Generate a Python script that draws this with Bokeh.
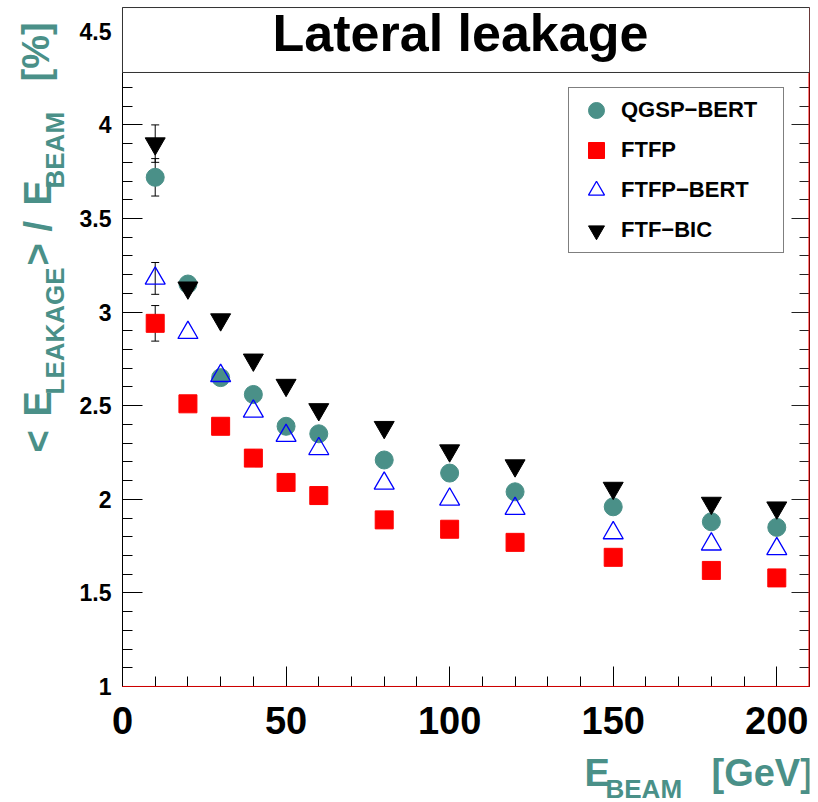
import math
from bokeh.plotting import figure
from bokeh.models import (Range1d, SingleIntervalTicker, LinearAxis, Label, BoxAnnotation,
                          Legend, LegendItem, ColumnDataSource, Whisker, TeeHead,
                          NumeralTickFormatter, CustomJSTickFormatter)
from bokeh.embed import file_html
from bokeh.resources import INLINE

# ---------------- data ----------------
energies = [10, 20, 30, 40, 50, 60, 80, 100, 120, 150, 180, 200]
qgsp_bert = [3.72, 3.15, 2.65, 2.56, 2.39, 2.35, 2.21, 2.14, 2.04, 1.96, 1.88, 1.85]
ftfp = [2.94, 2.51, 2.39, 2.22, 2.09, 2.02, 1.89, 1.84, 1.77, 1.69, 1.62, 1.58]
ftfp_bert = [3.18, 2.89, 2.66, 2.47, 2.34, 2.27, 2.085, 2.00, 1.95, 1.82, 1.76, 1.735]
ftf_bic = [3.90, 3.13, 2.96, 2.745, 2.61, 2.48, 2.385, 2.26, 2.18, 2.06, 1.98, 1.955]

# statistical errors shown at 10 GeV
err_energy = [10, 10, 10, 10]
err_value = [3.72, 2.94, 3.18, 3.90]
err_size = [0.10, 0.095, 0.085, 0.10]

series_names = ["QGSP\u2212BERT", "FTFP", "FTFP\u2212BERT", "FTF\u2212BIC"]

# axis extents (frame of the original plot)
X_MIN, X_MAX = 0, 210
Y_MIN, Y_MAX = 1, 4.627
Y_TITLE_BOTTOM = 4.28
# visible range extended so the axis labels/titles live inside the frame
X_LO = -37.29
Y_LO, Y_HI = 0.3803, 4.6325

TEAL = "#4a9088"
FONT = "Liberation Sans"

p = figure(width=818, height=802, x_range=Range1d(X_LO, X_MAX), y_range=Range1d(Y_LO, Y_HI),
           output_backend="svg", toolbar_location=None, x_axis_type=None, y_axis_type=None,
           min_border_left=0, min_border_right=9, min_border_top=6, min_border_bottom=0)
p.outline_line_color = None
p.background_fill_color = "white"
p.border_fill_color = "white"

# axes
xaxis = LinearAxis(ticker=SingleIntervalTicker(interval=50, num_minor_ticks=5),
                   fixed_location=Y_MIN, bounds=(X_MIN, X_MAX),
                   major_tick_in=20, major_tick_out=0, minor_tick_in=10, minor_tick_out=0,
                   major_label_text_font=FONT, major_label_text_font_style="bold",
                   major_label_text_font_size="38px", major_label_standoff=21,
                   major_label_text_color="black",
                   axis_line_color="black", major_tick_line_color="black",
                   minor_tick_line_color="black")
p.add_layout(xaxis, "below")

yaxis = LinearAxis(ticker=SingleIntervalTicker(interval=0.5, num_minor_ticks=5),
                   fixed_location=X_MIN, bounds=(Y_MIN, Y_MAX),
                   formatter=NumeralTickFormatter(format="0.[0]"),
                   major_tick_in=20, major_tick_out=0, minor_tick_in=10, minor_tick_out=0,
                   major_label_text_font=FONT, major_label_text_font_style="bold",
                   major_label_text_font_size="23px", major_label_standoff=11,
                   major_label_text_color="black",
                   axis_line_color="black", major_tick_line_color="black",
                   minor_tick_line_color="black")
p.add_layout(yaxis, "left")

raxis = LinearAxis(ticker=SingleIntervalTicker(interval=0.5, num_minor_ticks=5),
                   bounds=(Y_MIN, Y_MAX), formatter=CustomJSTickFormatter(code="return ''"),
                   major_tick_in=18, major_tick_out=0, minor_tick_in=10, minor_tick_out=0,
                   major_label_standoff=0,
                   axis_line_color="black", major_tick_line_color="#222222",
                   minor_tick_line_color="#222222")
p.add_layout(raxis, "right")

# red frame edges (right and bottom)
p.add_layout(BoxAnnotation(left=X_MAX, right=X_MAX, bottom=Y_MIN, top=Y_MAX, fill_color=None,
                           line_color="red", line_width=2, line_alpha=1))
p.add_layout(BoxAnnotation(left=X_MIN, right=X_MAX, bottom=Y_MIN, top=Y_MIN, fill_color=None,
                           line_color="#cc0000", line_width=1, line_alpha=1))

# error bars
esrc = ColumnDataSource(dict(base=err_energy,
                             upper=[v + e for v, e in zip(err_value, err_size)],
                             lower=[v - e for v, e in zip(err_value, err_size)]))
p.add_layout(Whisker(source=esrc, base="base", upper="upper", lower="lower",
                     line_color="black", line_width=1,
                     upper_head=TeeHead(size=8, line_color="black", line_width=1),
                     lower_head=TeeHead(size=8, line_color="black", line_width=1)))

src = ColumnDataSource(dict(e=energies, qgsp=qgsp_bert, ftfp=ftfp, ftfpb=ftfp_bert, bic=ftf_bic))
r1 = p.scatter("e", "qgsp", source=src, marker="circle", size=18, fill_color=TEAL, line_color=TEAL)
r2 = p.scatter("e", "ftfp", source=src, marker="square", size=18, fill_color="red", line_color="red")
r3 = p.scatter("e", "ftfpb", source=src, marker="triangle", size=20, fill_color=None,
               line_color="blue", line_width=1.3)
r4 = p.scatter("e", "bic", source=src, marker="inverted_triangle", size=20, fill_color="black",
               line_color="black")

legend = Legend(items=[LegendItem(label=n, renderers=[r]) for n, r in zip(series_names, [r1, r2, r3, r4])],
                location=(568, 549), orientation="vertical",
                glyph_width=50, glyph_height=40, label_height=40, label_width=160,
                spacing=0, padding=2, margin=0, label_standoff=0,
                label_text_font=FONT, label_text_font_style="bold", label_text_font_size="22px",
                label_text_color="black",
                border_line_color="black", border_line_width=1,
                background_fill_color="white", background_fill_alpha=1)
p.add_layout(legend)

# title box
p.add_layout(BoxAnnotation(left=X_MIN, right=X_MAX, bottom=Y_TITLE_BOTTOM, top=Y_MAX,
                           fill_color="white", fill_alpha=1, line_color="#333333", line_width=1,
                           line_alpha=1))
p.add_layout(Label(x=460, y=770, x_units="screen", y_units="screen", text="Lateral leakage",
                   text_align="center", text_baseline="alphabetic", text_font=FONT,
                   text_font_style="bold", text_font_size="52px", text_color="black"))

# y-axis title pieces (rotated)
ytitle = [("<", 37, 350, "38px"), ("E", 37, 386, "38px"), ("LEAKAGE", 54, 408, "26px"),
          (">", 37, 537, "38px"), ("/", 37, 571, "38px"), ("E", 37, 597, "38px"),
          ("BEAM", 54, 614, "26px"), ("[%]", 35, 721, "38px")]
for t, sx, sy, fs in ytitle:
    p.add_layout(Label(x=sx, y=sy, x_units="screen", y_units="screen", text=t, angle=math.pi / 2,
                       text_align="left", text_baseline="alphabetic", text_font=FONT,
                       text_font_style="bold", text_font_size=fs, text_color=TEAL))

# x-axis title pieces
xtitle = [("E", 584, 30, "38px"), ("BEAM", 605, 14, "26px"), ("[GeV]", 711, 30, "38px")]
for t, sx, sy, fs in xtitle:
    p.add_layout(Label(x=sx, y=sy, x_units="screen", y_units="screen", text=t,
                       text_align="left", text_baseline="alphabetic", text_font=FONT,
                       text_font_style="bold", text_font_size=fs, text_color=TEAL))

open("out.html", "w").write(file_html(p, INLINE))
